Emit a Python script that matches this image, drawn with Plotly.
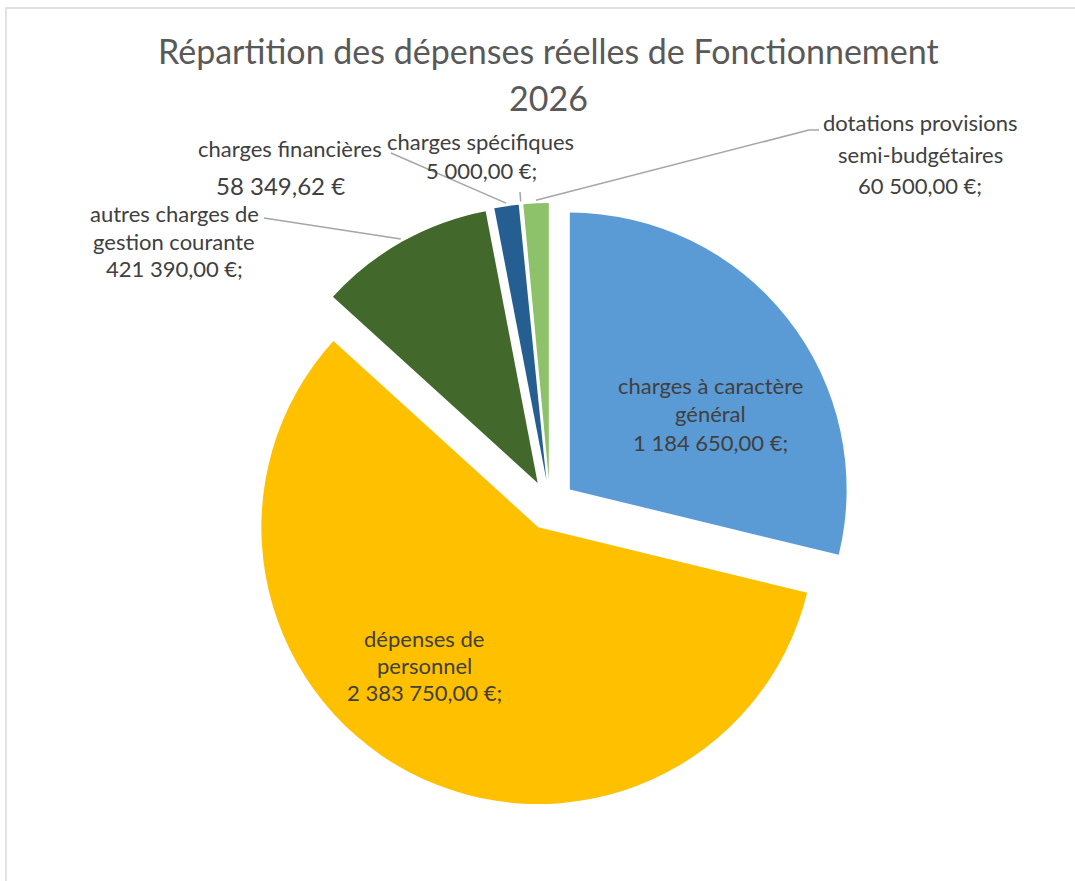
import math
import plotly.graph_objects as go

# ---- data ----
categories = [
    "charges à caractère général",
    "dépenses de personnel",
    "autres charges de gestion courante",
    "charges financières",
    "charges spécifiques",
    "dotations provisions semi-budgétaires",
]
values = [1184650.00, 2383750.00, 421390.00, 58349.62, 5000.00, 60500.00]
value_labels = ["1 184 650,00 €;", "2 383 750,00 €;", "421 390,00 €;",
                "58 349,62 €", "5 000,00 €;", "60 500,00 €;"]
colors = ["#5B9BD5", "#FFC000", "#43682B", "#255E91", "#FFFFFF", "#8DC26A"]

W, H = 1075, 881
PULL = 0.091
# pie box in pixels
BOX_L, BOX_R, BOX_T, BOX_B = 248, 852, 203, 807
FONT = "Lato"
TXT = "#404040"

fig = go.Figure(go.Pie(
    labels=categories, values=values, sort=False, direction="clockwise",
    rotation=0, pull=[PULL] * len(values), textinfo="none",
    marker=dict(colors=colors, line=dict(width=0)),
    domain=dict(x=[BOX_L / W, BOX_R / W], y=[1 - BOX_B / H, 1 - BOX_T / H]),
    hoverinfo="label+value", showlegend=False,
))

# pie geometry (pixels), derived from the domain as plotly does
cx = (BOX_L + BOX_R) / 2
cy = (BOX_T + BOX_B) / 2
r = min(BOX_R - BOX_L, BOX_B - BOX_T) / 2 / (1 + PULL)
total = sum(values)
mids = []
acc = 0
for v in values:
    mids.append((acc + v / 2) / total * 2 * math.pi)
    acc += v


def edge_point(i, extra=3):
    a = mids[i]
    d = r * (1 + PULL) + extra
    return cx + d * math.sin(a), cy - d * math.cos(a)


def px(x, y):
    return x / W, 1 - y / H


annotations = []


def label(x, y, text, size=22, color=TXT):
    xx, yy = px(x, y)
    annotations.append(dict(x=xx, y=yy, xref="paper", yref="paper", text=text,
                            showarrow=False, xanchor="center", yanchor="middle",
                            font=dict(family=FONT, size=size, color=color)))


# title
label(548, 51, "Répartition des dépenses réelles de Fonctionnement", 34, "#595959")
label(548, 97, "2026", 34, "#595959")

# labels
label(710, 385, "charges à caractère")
label(710, 413, "général")
label(710, 442, value_labels[0])

label(424, 638, "dépenses de")
label(424, 665, "personnel")
label(424, 692, value_labels[1])

label(174, 214, "autres charges de")
label(174, 241, "gestion courante")
label(174, 268, value_labels[2])

label(290, 148, "charges financières")
label(280, 185, value_labels[3], 24)

label(480, 142, "charges spécifiques")
label(481, 171, value_labels[4])

label(920, 123, "dotations provisions")
label(920, 154, "semi-budgétaires")
label(920, 185, value_labels[5])

shapes = []
LC = "#A6A6A6"


def seg(x0, y0, x1, y1):
    a0 = px(x0, y0)
    a1 = px(x1, y1)
    shapes.append(dict(type="line", xref="paper", yref="paper",
                       x0=a0[0], y0=a0[1], x1=a1[0], y1=a1[1],
                       line=dict(color=LC, width=1.5)))


e = edge_point(2)
seg(264, 218, e[0], e[1])
e = edge_point(3)
seg(391, 153, e[0], e[1])
e = edge_point(4)
seg(520, 192, e[0], e[1])
e = edge_point(5)
seg(819, 130, 809, 130)
seg(809, 130, e[0], e[1])

# chart border
b0 = px(6, 8)
shapes.append(dict(type="rect", xref="paper", yref="paper",
                   x0=b0[0], y0=b0[1], x1=1.05, y1=-0.05,
                   line=dict(color="#D9D9D9", width=1.5)))

fig.update_layout(
    width=W, height=H, margin=dict(l=0, r=0, t=0, b=0),
    paper_bgcolor="white", plot_bgcolor="white",
    annotations=annotations, shapes=shapes,
)

fig.write_html("out.html")
